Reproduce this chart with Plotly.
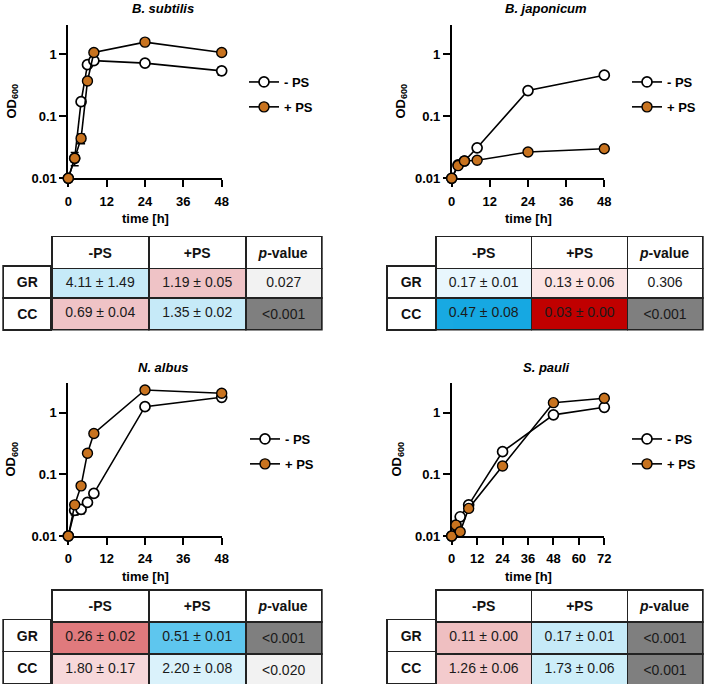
import plotly.graph_objects as go

W, H = 709, 686

# ---------------- data ----------------
bs_t = [0, 2, 4, 6, 8, 24, 48]
bs_minus = [0.010, 0.021, 0.172, 0.68, 0.79, 0.72, 0.54]
bs_minus_err = [0, 0.005, 0.010, 0.03, 0.03, 0.02, 0.08]
bs_plus = [0.010, 0.021, 0.044, 0.37, 1.07, 1.57, 1.07]
bs_plus_err = [0, 0.002, 0.008, 0.02, 0.04, 0.05, 0.04]

bj_t = [0, 2, 4, 8, 24, 48]
bj_minus = [0.010, 0.0165, 0.019, 0.031, 0.26, 0.46]
bj_minus_err = [0, 0.001, 0.001, 0.003, 0.01, 0.05]
bj_plus = [0.010, 0.016, 0.019, 0.0195, 0.0265, 0.030]
bj_plus_err = [0, 0.001, 0.001, 0.001, 0.002, 0.001]

na_t = [0, 2, 4, 6, 8, 24, 48]
na_minus = [0.010, 0.026, 0.027, 0.035, 0.049, 1.25, 1.77]
na_minus_err = [0, 0.004, 0.004, 0.003, 0.003, 0.05, 0.10]
na_plus = [0.010, 0.032, 0.065, 0.22, 0.46, 2.33, 2.06]
na_plus_err = [0, 0.002, 0.003, 0.01, 0.02, 0.05, 0.05]

sp_t = [0, 2, 4, 8, 24, 48, 72]
sp_minus = [0.010, 0.015, 0.0205, 0.032, 0.233, 0.92, 1.22]
sp_minus_err = [0, 0.001, 0.001, 0.002, 0.01, 0.03, 0.05]
sp_plus = [0.010, 0.015, 0.0117, 0.028, 0.136, 1.45, 1.71]
sp_plus_err = [0, 0.001, 0.001, 0.002, 0.01, 0.04, 0.05]

titles = ["B. subtilis", "B. japonicum", "N. albus", "S. pauli"]
series_names = ["- PS", "+ PS"]
y_tickvals = [0.01, 0.1, 1]
y_ticktext = ["0.01", "0.1", "1"]
x_ticks_48 = [0, 12, 24, 36, 48]
x_ticks_72 = [0, 12, 24, 36, 48, 60, 72]

table_header = ["<b>-PS</b>", "<b>+PS</b>", "<b><i>p</i>-value</b>"]
row_labels = ["<b>GR</b>", "<b>CC</b>"]

bs_gr = ["4.11 ± 1.49", "1.19 ± 0.05", "0.027"]
bs_cc = ["0.69 ± 0.04", "1.35 ± 0.02", "&lt;0.001"]
bj_gr = ["0.17 ± 0.01", "0.13 ± 0.06", "0.306"]
bj_cc = ["0.47 ± 0.08", "0.03 ± 0.00", "&lt;0.001"]
na_gr = ["0.26 ± 0.02", "0.51 ± 0.01", "&lt;0.001"]
na_cc = ["1.80 ± 0.17", "2.20 ± 0.08", "&lt;0.020"]
sp_gr = ["0.11 ± 0.00", "0.17 ± 0.01", "&lt;0.001"]
sp_cc = ["1.26 ± 0.06", "1.73 ± 0.06", "&lt;0.001"]

bs_gr_col = ["#c6eaf8", "#efc3c6", "#f2f2f2"]
bs_cc_col = ["#efc3c6", "#c6eaf8", "#7f7f7f"]
bj_gr_col = ["#e8f6fd", "#fbe4e4", "#ffffff"]
bj_cc_col = ["#16a8e2", "#c00000", "#7f7f7f"]
na_gr_col = ["#e07a7d", "#5ec6ee", "#7f7f7f"]
na_cc_col = ["#f7d8da", "#daf2fb", "#f2f2f2"]
sp_gr_col = ["#efbfc1", "#c6eaf8", "#7f7f7f"]
sp_cc_col = ["#f3cbcd", "#cdeef9", "#7f7f7f"]

# ---------------- layout geometry (pixels) ----------------
FONT = "Liberation Sans, Arial, sans-serif"
ORANGE = "#c8731f"
FS = 13      # chart text size
TFS = 14     # table text size
RH = 29.5    # table row height

panels = [
    dict(t=bs_t, m=bs_minus, me=bs_minus_err, p=bs_plus, pe=bs_plus_err, xt=x_ticks_48,
         gr=bs_gr, cc=bs_cc, grc=bs_gr_col, ccc=bs_cc_col,
         px=(68.3, 221.7), py=(24.7, 178.3), tx=(3.3, 51.7, 321.7), ttop=236.5,
         leg=(263, 78), tcx=163, ycx=12),
    dict(t=bj_t, m=bj_minus, me=bj_minus_err, p=bj_plus, pe=bj_plus_err, xt=x_ticks_48,
         gr=bj_gr, cc=bj_cc, grc=bj_gr_col, ccc=bj_cc_col,
         px=(451.7, 604.3), py=(24.7, 178.3), tx=(386.7, 435.7, 703.3), ttop=236.5,
         leg=(646, 78), tcx=546, ycx=401),
    dict(t=na_t, m=na_minus, me=na_minus_err, p=na_plus, pe=na_plus_err, xt=x_ticks_48,
         gr=na_gr, cc=na_cc, grc=na_gr_col, ccc=na_cc_col,
         px=(68.3, 221.7), py=(383.2, 536.0), tx=(3.3, 51.7, 321.7), ttop=590.0,
         leg=(264, 435), tcx=163, ycx=12),
    dict(t=sp_t, m=sp_minus, me=sp_minus_err, p=sp_plus, pe=sp_plus_err, xt=x_ticks_72,
         gr=sp_gr, cc=sp_cc, grc=sp_gr_col, ccc=sp_cc_col,
         px=(451.7, 604.3), py=(383.2, 536.0), tx=(386.7, 435.7, 703.3), ttop=590.0,
         leg=(646, 435), tcx=546, ycx=398),
]

def fx(v):
    return min(1.0, max(0.0, v / W))

def fy(v):
    return min(1.0, max(0.0, 1 - v / H))

fig = go.Figure()
annotations = []
layout = {}

for i, P in enumerate(panels):
    k = "" if i == 0 else str(i + 1)
    xa, ya = "x" + k, "y" + k
    legname = "legend" + k
    fig.add_trace(go.Scatter(
        x=P["t"], y=P["m"], mode="lines+markers", name=series_names[0],
        xaxis=xa, yaxis=ya, legend=legname, legendgroup=f"m{i}", cliponaxis=False,
        line=dict(color="black", width=1.6),
        marker=dict(symbol="circle", size=10, color="white", line=dict(color="black", width=1.7)),
        error_y=dict(type="data", array=P["me"], color="black", thickness=1.5, width=4),
    ))
    fig.add_trace(go.Scatter(
        x=P["t"], y=P["p"], mode="lines+markers", name=series_names[1],
        xaxis=xa, yaxis=ya, legend=legname, legendgroup=f"p{i}", cliponaxis=False,
        line=dict(color="black", width=1.6),
        marker=dict(symbol="circle", size=10, color=ORANGE, line=dict(color="black", width=1.4)),
        error_y=dict(type="data", array=P["pe"], color="black", thickness=1.5, width=4),
    ))
    xmax = P["xt"][-1]
    layout["xaxis" + k] = dict(
        domain=[fx(P["px"][0]), fx(P["px"][1])], range=[0, xmax], anchor=ya,
        showline=True, linecolor="black", linewidth=1.7, ticks="outside", ticklen=7,
        tickwidth=1.7, tickcolor="black", tickvals=P["xt"], showgrid=False, zeroline=False,
        ticklabelstandoff=3,
        tickfont=dict(family=FONT, size=FS, color="black", weight="bold"), layer="below traces",
        fixedrange=True,
    )
    layout["yaxis" + k] = dict(
        domain=[fy(P["py"][1]), fy(P["py"][0])], type="log", range=[-2, 0.477], anchor=xa,
        showline=True, linecolor="black", linewidth=1.7, ticks="outside", ticklen=7,
        tickwidth=1.7, tickcolor="black", tickvals=y_tickvals, ticktext=y_ticktext,
        showgrid=False, zeroline=False, ticklabelstandoff=0,
        tickfont=dict(family=FONT, size=FS, color="black", weight="bold"), layer="below traces",
        fixedrange=True,
    )
    layout[legname] = dict(
        x=fx(P["leg"][0] - 19), y=fy(P["leg"][1] - 11), xanchor="left", yanchor="top",
        bgcolor="rgba(0,0,0,0)", tracegroupgap=5, itemclick=False,
        font=dict(family=FONT, size=FS, color="black", weight="bold"),
    )
    cx = (P["px"][0] + P["px"][1]) / 2
    annotations.append(dict(text=f"<b><i>{titles[i]}</i></b>", x=fx(P["tcx"]), y=fy(P["py"][0] - 16),
                            xref="paper", yref="paper", showarrow=False, xanchor="center", yanchor="middle",
                            font=dict(family=FONT, size=FS, color="black")))
    annotations.append(dict(text="<b>time [h]</b>", x=fx(cx), y=fy(P["py"][1] + 40),
                            xref="paper", yref="paper", showarrow=False, xanchor="center", yanchor="middle",
                            font=dict(family=FONT, size=FS, color="black")))
    annotations.append(dict(text="<b>OD<sub>600</sub></b>", x=fx(P["ycx"]), y=fy((P["py"][0] + P["py"][1]) / 2),
                            xref="paper", yref="paper", showarrow=False, textangle=-90,
                            xanchor="center", yanchor="middle",
                            font=dict(family=FONT, size=FS, color="black")))

    x0, x1, x2 = P["tx"]
    ytop = P["ttop"]
    yrow = ytop + RH
    ybot = min(H, ytop + 3 * RH + 6)
    values_cols = [[P["gr"][j], P["cc"][j]] for j in range(3)]
    fill_cols = [[P["grc"][j], P["ccc"][j]] for j in range(3)]
    fig.add_trace(go.Table(
        domain=dict(x=[fx(x1), fx(x2)], y=[fy(ybot), fy(ytop)]),
        columnwidth=[97, 97, 76],
        header=dict(values=table_header, height=RH, fill_color="white",
                    line=dict(color="#222222", width=1.7), align="center",
                    font=dict(family=FONT, size=TFS, color="#111111")),
        cells=dict(values=values_cols, height=RH, fill_color=fill_cols,
                   line=dict(color="#222222", width=1.7), align="center",
                   font=dict(family=FONT, size=TFS, color="#1a1a1a")),
    ))
    fig.add_trace(go.Table(
        domain=dict(x=[fx(x0), fx(x1)], y=[fy(ybot), fy(yrow)]),
        header=dict(values=[row_labels[0]], height=RH, fill_color="white",
                    line=dict(color="#222222", width=1.7), align="center",
                    font=dict(family=FONT, size=TFS, color="#111111")),
        cells=dict(values=[[row_labels[1]]], height=RH, fill_color="white",
                   line=dict(color="#222222", width=1.7), align="center",
                   font=dict(family=FONT, size=TFS, color="#111111")),
    ))

fig.update_layout(
    width=W, height=H, margin=dict(l=0, r=0, t=0, b=0, autoexpand=False),
    paper_bgcolor="white", plot_bgcolor="white",
    annotations=annotations, showlegend=True,
    font=dict(family=FONT, size=FS, color="black"),
    **layout,
)

fig.write_html("out.html", config={"displayModeBar": False})
